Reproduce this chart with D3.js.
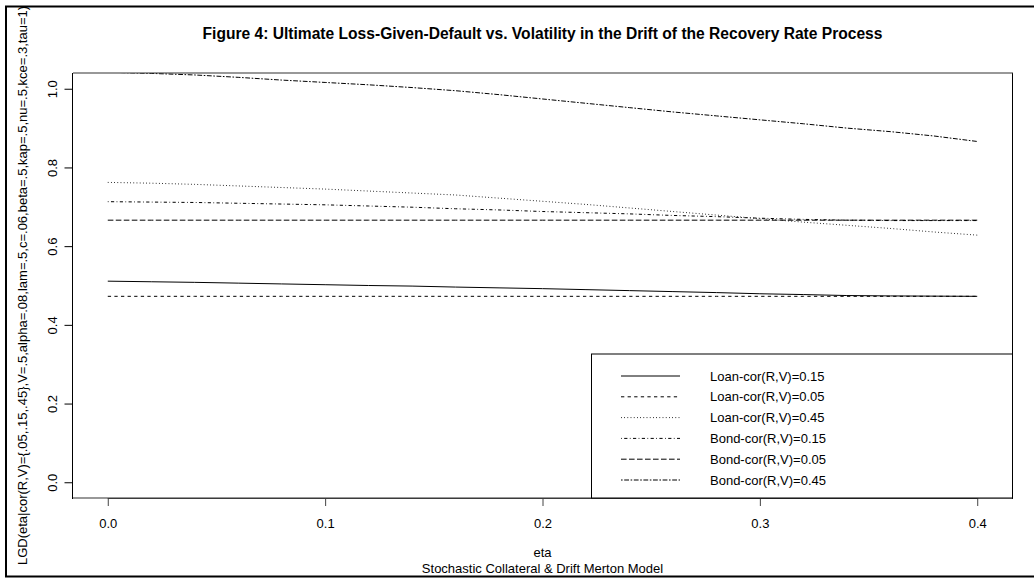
<!DOCTYPE html>
<html><head><meta charset="utf-8">
<script src="https://cdn.jsdelivr.net/npm/d3@7"></script>
<style>body{margin:0;background:#fff}svg{display:block}text{font-family:"Liberation Sans",Arial,sans-serif;fill:#000}</style>
</head><body>
<script>
const eta = [0,0.02,0.04,0.06,0.08,0.10,0.12,0.14,0.16,0.18,0.20,0.22,0.24,0.26,0.28,0.30,0.32,0.34,0.36,0.38,0.40];
const loan15 = [0.511,0.5095,0.508,0.506,0.504,0.502,0.500,0.4985,0.496,0.494,0.492,0.4895,0.487,0.4845,0.482,0.479,0.477,0.4745,0.4735,0.473,0.4725];
const loan05 = [0.4725,0.4725,0.4725,0.4725,0.4725,0.4725,0.4725,0.4725,0.4725,0.4725,0.4725,0.4725,0.4725,0.4725,0.4725,0.4725,0.4725,0.4725,0.4725,0.4725,0.4725];
const loan45 = [0.762,0.760,0.757,0.753,0.749,0.745,0.740,0.735,0.730,0.722,0.714,0.706,0.697,0.688,0.679,0.670,0.661,0.653,0.645,0.636,0.628];
const bond15 = [0.713,0.712,0.711,0.709,0.707,0.705,0.702,0.699,0.695,0.692,0.688,0.685,0.682,0.678,0.675,0.671,0.668,0.666,0.665,0.665,0.665];
const bond05 = [0.666,0.666,0.666,0.666,0.666,0.666,0.666,0.666,0.666,0.666,0.666,0.666,0.666,0.666,0.666,0.666,0.666,0.666,0.666,0.666,0.666];
const bond45 = [1.042,1.039,1.035,1.029,1.022,1.016,1.010,1.003,0.995,0.985,0.974,0.963,0.952,0.941,0.931,0.921,0.911,0.900,0.891,0.880,0.866];
const seriesNames = ["Loan-cor(R,V)=0.15","Loan-cor(R,V)=0.05","Loan-cor(R,V)=0.45","Bond-cor(R,V)=0.15","Bond-cor(R,V)=0.05","Bond-cor(R,V)=0.45"];
const seriesValues = [loan15, loan05, loan45, bond15, bond05, bond45];
const dashes = [null, "3.3,3.3", "0.8,2.4", "0.8,2.4,3.2,2.4", "5.6,2.4", "1.6,1.6,4.8,1.6"];
const xTicks = [0.0,0.1,0.2,0.3,0.4];
const yTicks = [0.0,0.2,0.4,0.6,0.8,1.0];
const title = "Figure 4: Ultimate Loss-Given-Default vs. Volatility in the Drift of the Recovery Rate Process";
const yTitle = "LGD(eta|cor(R,V)={.05,.15,.45},V=.5,alpha=.08,lam=.5,c=.06,beta=.5,kap=.5,nu=.5,kce=.3,tau=1)";
const xTitle = "eta";
const subTitle = "Stochastic Collateral & Drift Merton Model";

const W = 1034, H = 578;
const L = 73, R = 1012, T = 73, B = 498;
const svg = d3.select("body").append("svg").attr("width", W).attr("height", H);

// outer frame
svg.append("rect").attr("x",6).attr("y",6.5).attr("width",1100).attr("height",570)
  .attr("fill","none").attr("stroke","#000").attr("stroke-width",2);

const x = d3.scaleLinear().domain([-0.016, 0.416]).range([L, R]);
const y = d3.scaleLinear().domain([-0.04, 1.04]).range([B, T]);

svg.append("defs").append("clipPath").attr("id","clip")
  .append("rect").attr("x",L).attr("y",T).attr("width",R-L).attr("height",B-T);

const line = d3.line().x((d,i)=>x(eta[i])).y(d=>y(d));
const g = svg.append("g").attr("clip-path","url(#clip)");
seriesValues.forEach((vals,k)=>{
  g.append("path").datum(vals).attr("d",line).attr("fill","none")
    .attr("stroke","#000").attr("stroke-width",1)
    .attr("stroke-dasharray",dashes[k]);
});

// axes
const xAxis = d3.axisBottom(x).tickValues(xTicks).tickFormat(d3.format(".1f")).tickSize(8).tickPadding(13);
const xa = svg.append("g").attr("transform",`translate(0,${B})`).call(xAxis);
xa.select(".domain").attr("d",`M${x(0)},0.5H${x(0.4)}`).attr("stroke","#444");
xa.selectAll("text").attr("font-size",13).attr("font-family","Liberation Sans, Arial, sans-serif");
xa.selectAll("line").attr("stroke","#444");

const yAxis = d3.axisLeft(y).tickValues(yTicks).tickFormat(d3.format(".1f")).tickSize(8).tickPadding(0);
const ya = svg.append("g").attr("transform",`translate(${L-0.5},0)`).call(yAxis);
ya.select(".domain").remove();
ya.selectAll("text").remove();
ya.selectAll(".tick").append("text")
  .attr("transform","translate(-16,0) rotate(-90)")
  .attr("text-anchor","middle").attr("font-size",13)
  .attr("font-family","Liberation Sans, Arial, sans-serif")
  .attr("fill","#000")
  .text(d=>d3.format(".1f")(d));

// plot box
svg.append("line").attr("x1",L-0.5).attr("x2",L-0.5).attr("y1",T).attr("y2",B+1).attr("stroke","#000");
svg.append("line").attr("x1",R+0.5).attr("x2",R+0.5).attr("y1",T).attr("y2",B+1).attr("stroke","#000");
svg.append("line").attr("x1",L).attr("x2",R+1).attr("y1",T).attr("y2",T).attr("stroke","#333").attr("stroke-width",1.2);
svg.append("line").attr("x1",L).attr("x2",R+1).attr("y1",B).attr("y2",B).attr("stroke","#333").attr("stroke-width",1.2);

// titles
svg.append("text").attr("x",(L+R)/2).attr("y",39).attr("text-anchor","middle")
  .attr("font-size",15.6).attr("font-weight","bold").text(title);
svg.append("text").attr("transform",`translate(27,${(T+B)/2}) rotate(-90)`)
  .attr("text-anchor","middle").attr("font-size",13).text(yTitle);
svg.append("text").attr("x",(L+R)/2).attr("y",557).attr("text-anchor","middle").attr("font-size",13).text(xTitle);
svg.append("text").attr("x",(L+R)/2).attr("y",573).attr("text-anchor","middle").attr("font-size",13).text(subTitle);

// legend
const lg = svg.append("g");
lg.append("rect").attr("x",591.5).attr("y",354).attr("width",R-591.5+0.5).attr("height",B-354)
  .attr("fill","#fff").attr("stroke","#000");
seriesNames.forEach((name,k)=>{
  const yy = 376 + k*20.8;
  lg.append("line").attr("x1",621).attr("x2",680).attr("y1",yy).attr("y2",yy)
    .attr("stroke","#000").attr("stroke-dasharray",dashes[k]);
  lg.append("text").attr("x",710).attr("y",yy+4.5).attr("font-size",13).text(name);
});
</script>
</body></html>
